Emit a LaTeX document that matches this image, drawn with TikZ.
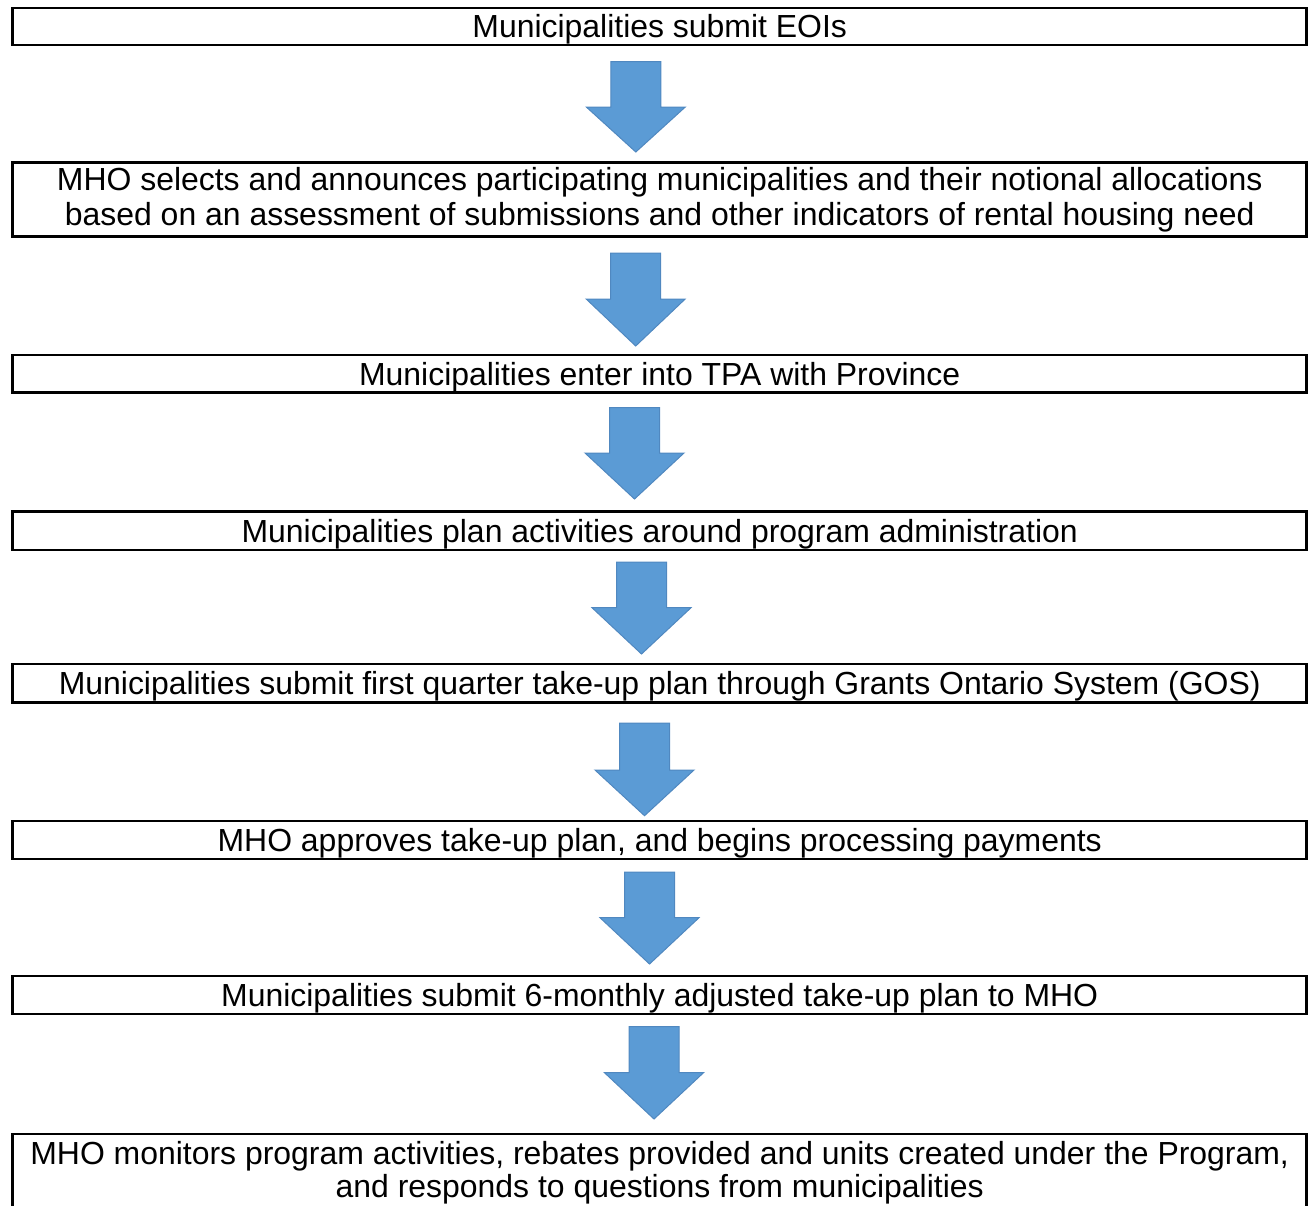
\documentclass[tikz,border=0pt]{standalone}
\usepackage{fontspec}
\setmainfont{Liberation Sans}
\definecolor{arrowblue}{HTML}{5B9BD5}
\definecolor{arrowedge}{HTML}{5088C0}

\begin{document}
\begin{tikzpicture}[x=0.5pt,y=-0.5pt,
  stepbox/.style={draw,line width=1.35pt,minimum width=647pt,inner sep=0pt,align=center,font=\fontsize{15.97}{17.7}\selectfont},
  oneline/.style={stepbox,text height=11.43pt,text depth=0pt},
  blockarrow/.style={fill=arrowblue,draw=arrowedge,line width=0.5pt}]
  \useasboundingbox (0,0) rectangle (1309,1205);
  \node[oneline,minimum height=18.5pt] (eoi) at (659.7,26.5) {Municipalities submit EOIs};
  \node[stepbox,minimum height=37pt] (select) at (659.7,199.5) {MHO selects and announces participating municipalities and their notional allocations\\based on an assessment of submissions and other indicators of rental housing need};
  \node[oneline,minimum height=18.75pt] (tpa) at (659.7,373.75) {Municipalities enter into TPA with Province};
  \node[oneline,minimum height=19.15pt] (admin) at (659.7,530.9) {Municipalities plan activities around program administration};
  \node[oneline,minimum height=19.35pt] (qplan) at (659.7,683.3) {Municipalities submit first quarter take-up plan through Grants Ontario System (GOS)};
  \node[oneline,minimum height=19pt] (approve) at (659.7,840) {MHO approves take-up plan, and begins processing payments};
  \node[oneline,minimum height=19pt] (adjust) at (659.7,995) {Municipalities submit 6-monthly adjusted take-up plan to MHO};
  \node[stepbox,minimum height=38.8pt,font=\fontsize{15.97}{16.7}\selectfont] (monitor) at (659.7,1172.8) {MHO monitors program activities, rebates provided and units created under the Program,\\and responds to questions from municipalities};
  \foreach \cx/\ty/\hy/\py in {635.8/61.7/107/152, 635.7/253/299/346, 634.5/407.7/453/499,
      641.5/562/607.7/654, 644.5/723/770/815.7, 649.5/872/917.7/964, 654/1026.7/1072.7/1119}
    \draw[blockarrow] ({\cx-25},\ty) -- ({\cx+25},\ty) -- ({\cx+25},\hy) -- ({\cx+49.5},\hy)
      -- (\cx,\py) -- ({\cx-49.5},\hy) -- ({\cx-25},\hy) -- cycle;
\end{tikzpicture}
\end{document}
